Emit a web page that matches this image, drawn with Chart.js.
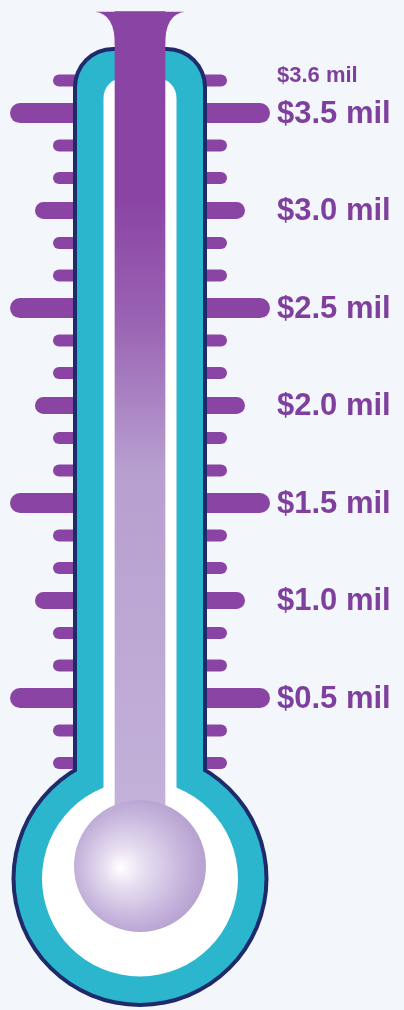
<!DOCTYPE html>
<html>
<head>
<meta charset="utf-8">
<script src="https://cdn.jsdelivr.net/npm/chart.js"></script>
<style>
  body { margin: 0; background: #f3f7fb; }
  #wrap { width: 404px; height: 1010px; position: relative; }
</style>
</head>
<body>
<div id="wrap"><canvas id="thermo"></canvas></div>
<script>
// goal marks on the scale ($ millions)
const goalValues = [0.5, 1.0, 1.5, 2.0, 2.5, 3.0, 3.5];
const goalLabels = ['$0.5 mil', '$1.0 mil', '$1.5 mil', '$2.0 mil', '$2.5 mil', '$3.0 mil', '$3.5 mil'];
// amount raised
const raisedValue = [3.6];
const raisedLabel = ['$3.6 mil'];
// the purple fill runs out past the top of the tube
const fillLevel = [4.02];
const fillBase = [-0.35];

const purple = '#8a45a4';
const labelPurple = '#7f3f9e';
const navy = '#1f2a6b';
const cyan = '#2cb6ce';

function tubeShape(ctx, cx, half, top, r, bottom) {
    ctx.beginPath();
    ctx.moveTo(cx - half, bottom);
    ctx.lineTo(cx - half, top + r);
    ctx.arcTo(cx - half, top, cx - half + r, top, r);
    ctx.lineTo(cx + half - r, top);
    ctx.arcTo(cx + half, top, cx + half, top + r, r);
    ctx.lineTo(cx + half, bottom);
    ctx.closePath();
    ctx.fill();
}

function circle(ctx, x, y, r) {
    ctx.beginPath();
    ctx.arc(x, y, r, 0, Math.PI * 2);
    ctx.fill();
}

function drawTick(ctx, y, x0, x1, w) {
    ctx.beginPath();
    ctx.lineCap = 'round';
    ctx.lineWidth = w;
    ctx.strokeStyle = purple;
    ctx.moveTo(x0 + w / 2, y);
    ctx.lineTo(x1 - w / 2, y);
    ctx.stroke();
}

const thermoPlugin = {
    id: 'thermo',
    beforeDatasetsDraw(chart) {
        const ctx = chart.ctx;
        const yScale = chart.scales.y;
        const cx = chart.getDatasetMeta(0).data[0].x;
        ctx.save();

        // small ticks every sixth of a million
        for (let k = 1; k <= 22; k++) {
            if (k % 3 === 0) continue;
            drawTick(ctx, yScale.getPixelForValue(k / 6), cx - 87, cx + 87, 12);
        }
        goalValues.forEach(v => {
            const y = yScale.getPixelForValue(v);
            if (Math.round(v * 2) % 2 === 1) {
                drawTick(ctx, y, cx - 130, cx + 130, 20);
            } else {
                drawTick(ctx, y, cx - 105, cx + 105, 17);
            }
        });

        // glass: navy rim, cyan band, white inside
        const bulbY = 878.5;
        ctx.fillStyle = navy;
        tubeShape(ctx, cx, 67, 47, 40, bulbY);
        circle(ctx, cx, bulbY, 128.5);
        ctx.fillStyle = cyan;
        tubeShape(ctx, cx, 63, 51, 36, bulbY);
        circle(ctx, cx, bulbY, 124.5);
        ctx.fillStyle = '#ffffff';
        tubeShape(ctx, cx, 36.5, 78, 20, bulbY);
        circle(ctx, cx, bulbY, 98);
        ctx.restore();
    },
    afterDatasetsDraw(chart) {
        const ctx = chart.ctx;
        const yScale = chart.scales.y;
        const bar = chart.getDatasetMeta(0).data[0];
        const cx = bar.x;
        ctx.save();

        // flared spill at the top of the column
        const top = bar.y;
        ctx.fillStyle = purple;
        ctx.beginPath();
        ctx.moveTo(cx - 45, top);
        ctx.lineTo(cx + 45, top);
        ctx.quadraticCurveTo(cx + 25, top + 2, cx + 25, top + 34);
        ctx.lineTo(cx - 25, top + 34);
        ctx.quadraticCurveTo(cx - 25, top + 2, cx - 45, top);
        ctx.closePath();
        ctx.fill();

        // bulb
        const by = 866;
        const g = ctx.createRadialGradient(cx - 20, by + 2, 0, cx - 6, by, 70);
        g.addColorStop(0, '#ffffff');
        g.addColorStop(0.3, '#e6ddf0');
        g.addColorStop(0.75, '#c6b5dc');
        g.addColorStop(1, '#b7a2d1');
        ctx.fillStyle = g;
        circle(ctx, cx, by, 66);

        // labels
        ctx.fillStyle = labelPurple;
        ctx.textBaseline = 'middle';
        ctx.textAlign = 'left';
        ctx.font = 'bold 31px "Liberation Sans", Arial, sans-serif';
        goalValues.forEach((v, i) => {
            ctx.fillText(goalLabels[i], 277, yScale.getPixelForValue(v) + 1);
        });
        ctx.font = 'bold 22px "Liberation Sans", Arial, sans-serif';
        ctx.fillText(raisedLabel[0], 277, yScale.getPixelForValue(raisedValue[0]) - 18);
        ctx.restore();
    }
};

function columnFill(context) {
    const chart = context.chart;
    if (!chart.chartArea) return purple;
    const g = chart.ctx.createLinearGradient(0, 200, 0, 800);
    g.addColorStop(0, purple);
    g.addColorStop(0.2, '#9a63b3');
    g.addColorStop(0.45, '#b79fcf');
    g.addColorStop(1, '#c3b1d9');
    return g;
}

new Chart(document.getElementById('thermo'), {
    type: 'bar',
    data: {
        labels: ['raised'],
        datasets: [{
            data: fillLevel.map((v, i) => [fillBase[i], v]),
            backgroundColor: columnFill,
            borderWidth: 0,
            barThickness: 50
        }]
    },
    options: {
        responsive: true,
        maintainAspectRatio: false,
        animation: false,
        layout: { padding: { left: 0, right: 124, top: 0, bottom: 0 } },
        plugins: {
            legend: { display: false },
            tooltip: { enabled: false }
        },
        scales: {
            x: { display: false },
            y: { display: false, min: -1.1, max: 4.08 }
        }
    },
    plugins: [thermoPlugin]
});
</script>
</body>
</html>
